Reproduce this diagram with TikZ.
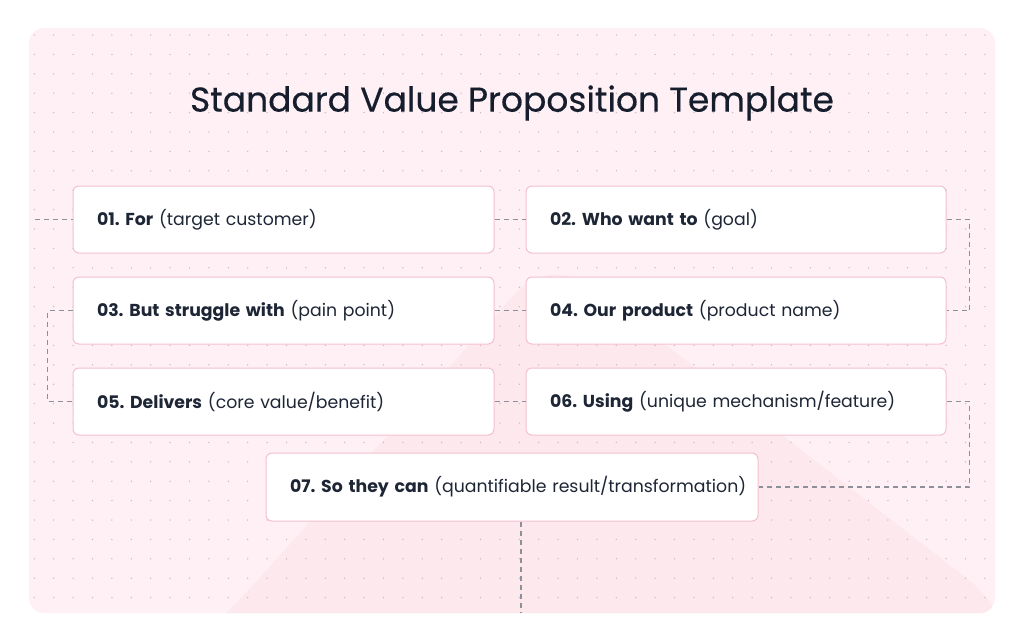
\documentclass[tikz,border=0pt]{standalone}
\usepackage{fontspec}
\setmainfont{Poppins}
\newfontfamily\titlefont[FakeBold=0.4]{Poppins}
\definecolor{panel}{HTML}{FEF0F4}
\definecolor{mount}{HTML}{FDE8EE}
\definecolor{dotc}{HTML}{C9B9C0}
\definecolor{boxline}{HTML}{F4C0CF}
\definecolor{txt}{HTML}{1E2636}
\definecolor{titlec}{HTML}{161E2E}
\definecolor{dash}{HTML}{8C9099}
\begin{document}
\begin{tikzpicture}[x=1pt,y=-1pt,
  card/.style={draw=boxline, fill=white, line width=1pt, rounded corners=6pt,
    minimum height=67pt, inner xsep=24pt, inner ysep=0pt, align=left,
    font=\fontsize{17.3}{20}\selectfont, text=txt},
  conn/.style={draw=dash, line width=1.1pt, dash pattern=on 5pt off 4pt}]
\useasboundingbox (0,0) rectangle (1024,642);
\fill[white] (0,0) rectangle (1024,642);
\fill[panel, rounded corners=15pt] (29,28) rectangle (995,613);
\begin{scope}
\clip[rounded corners=15pt] (29,28) rectangle (995,613);
\fill[mount, rounded corners=50pt] (228,613) -- (550,255) -- (1010,612) -- (1010,640) -- (200,640) -- cycle;
\foreach \i in {0,...,49} {
  \foreach \j in {0,...,29} {
    \fill[dotc] (34.3+19.4*\i, 35+19.4*\j) circle (0.75pt);
  }
}
\end{scope}
\node[font=\titlefont\fontsize{34.5}{40}\selectfont, text=titlec] (title) at (512,103) {Standard Value Proposition Template};
\node[card, text width=373pt] (b1) at (283.5,219.5) {\mbox{\textbf{01.\ For} (target customer)}};
\node[card, text width=372pt] (b2) at (736,219.5) {\mbox{\textbf{02.\ Who want to} (goal)}};
\node[card, text width=373pt] (b3) at (283.5,310.5) {\mbox{\textbf{03.\ But struggle with} (pain point)}};
\node[card, text width=372pt] (b4) at (736,310.5) {\mbox{\textbf{04.\ Our product} (product name)}};
\node[card, text width=373pt] (b5) at (283.5,401.5) {\mbox{\textbf{05.\ Delivers} (core value/benefit)}};
\node[card, text width=372pt] (b6) at (736,401.5) {\mbox{\textbf{06.\ Using} (unique mechanism/feature)}};
\node[card, text width=444pt, minimum height=68pt] (b7) at (512,487) {\mbox{\textbf{07.\ So they can} (quantifiable result/transformation)}};
\coordinate (s0) at (35,219.5);
\coordinate (e8) at (521,612);
\draw[conn] (s0) -- (b1.west);
\draw[conn] (b1.east) -- (b2.west);
\draw[conn] (b2.east) -- ++(23,0) |- (b4.east);
\draw[conn] (b3.east) -- (b4.west);
\draw[conn] (b3.west) -- ++(-25,0) |- (b5.west);
\draw[conn] (b5.east) -- (b6.west);
\draw[conn] (b6.east) -- ++(23,0) |- (b7.east);
\draw[conn] (b7.south -| e8) -- (e8);
\end{tikzpicture}
\end{document}
